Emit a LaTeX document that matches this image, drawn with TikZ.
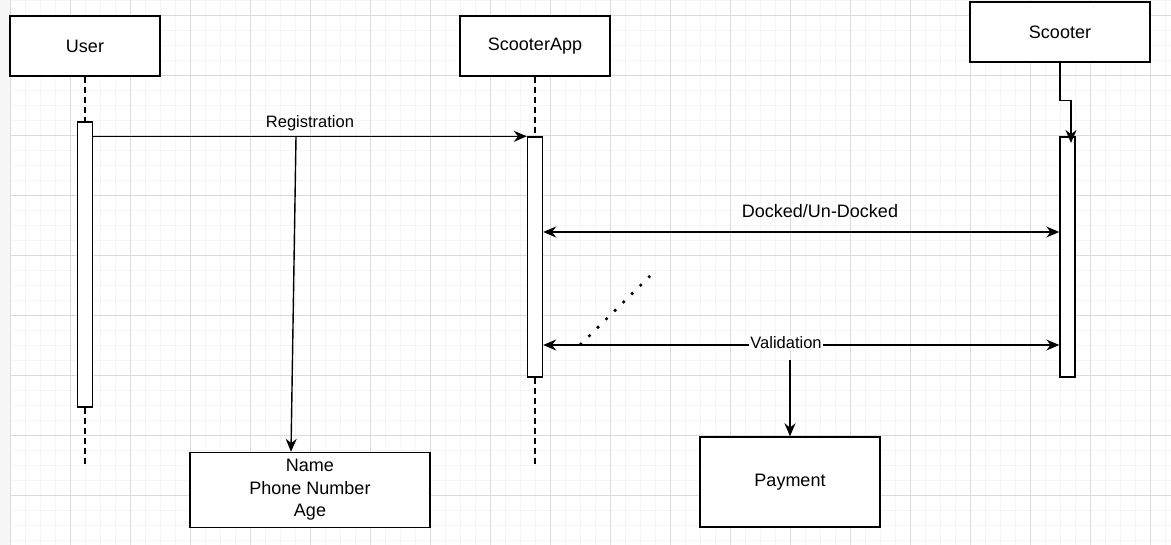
\documentclass[tikz,border=0pt]{standalone}
\usepackage{fontspec}
\setmainfont{Liberation Sans}
\usetikzlibrary{arrows.meta}

\begin{document}
\begin{tikzpicture}[x=1pt,y=-1pt,
    lnode/.style={draw,rectangle,line width=1.4pt,fill=white,minimum width=150pt,minimum height=60pt,inner sep=3pt,font=\fontsize{18}{22.5}\selectfont},
    anode/.style={draw,rectangle,line width=1.4pt,fill=white,minimum width=15pt,inner sep=0pt},
    life/.style={line width=1.4pt,dash pattern=on 6pt off 4pt},
    msg/.style={line width=1.4pt,-{Stealth[length=13pt,width=11pt]}},
    both/.style={line width=1.4pt,{Stealth[length=13pt,width=11pt]}-{Stealth[length=13pt,width=11pt]}},
    small/.style={font=\fontsize{16.5}{19}\selectfont},
    minor/.style={draw=black!4,line width=0.8pt},
    major/.style={draw=black!14,line width=0.8pt}]
    \useasboundingbox (0,0) rectangle (1171,545);

    % grid
    \fill[black!3] (0,0) rectangle (10,545);
    \fill[white] (10,0) rectangle (1171,545);
    \foreach \x in {10,25,...,1170} \draw[minor] (\x,0) -- (\x,545);
    \foreach \y in {0,15,...,545} \draw[minor] (10,\y) -- (1171,\y);
    \foreach \x in {10,70,...,1170} \draw[major] (\x,0) -- (\x,545);
    \foreach \y in {15,75,...,545} \draw[major] (10,\y) -- (1171,\y);

    \node[lnode] (user) at (85,46) {User};
    \node[lnode] (app) at (535,46) {ScooterApp};
    \node[lnode,minimum width=180pt] (scooter) at (1060,32) {Scooter};
    \node[anode,minimum height=285pt] (userbar) at (85,264.5) {};
    \node[anode,minimum height=240pt] (appbar) at (535,257) {};
    \node[anode,minimum height=240pt] (scooterbar) at (1067.5,257) {};
    \node[lnode,minimum width=240pt,minimum height=75pt,align=center] (info) at (310,490) {Name\\Phone Number\\Age};
    \node[lnode,minimum width=180pt,minimum height=90pt] (payment) at (790,482) {Payment};

    \coordinate (userend) at (85,467);
    \coordinate (append) at (535,467);
    \coordinate (regtap) at (296,137);
    \coordinate (valtap) at (790,360);
    \coordinate (sctip) at (1071,143);
    \coordinate (dota) at (580,345);
    \coordinate (dotb) at (650,276);

    \draw[life] (user) -- (userbar);
    \draw[life] (userbar) -- (userend);
    \draw[life] (app) -- (appbar);
    \draw[life] (appbar) -- (append);
    \draw[msg] (scooter.south) -- ++(0,38) -| (sctip);

    \draw[msg] (userbar.east |- appbar.north) -- (appbar.north west) node[small,midway,above=1pt] {Registration};
    \draw[msg] (regtap) -- ([xshift=-19pt]info.north);
    \draw[both] (appbar.east |- 0,232) -- (scooterbar.west |- 0,232);
    \node[font=\fontsize{18}{21}\selectfont] (docked) at (820,211) {Docked/Un-Docked};
    \draw[both] (appbar.east |- 0,345) -- (scooterbar.west |- 0,345);
    \node[small,fill=white,inner sep=1pt] (valid) at (786,343) {Validation};
    \draw[msg] (valtap) -- (payment);
    \draw[line width=2.6pt,dash pattern=on 2.6pt off 9.4pt] (dota) -- (dotb);
\end{tikzpicture}
\end{document}
